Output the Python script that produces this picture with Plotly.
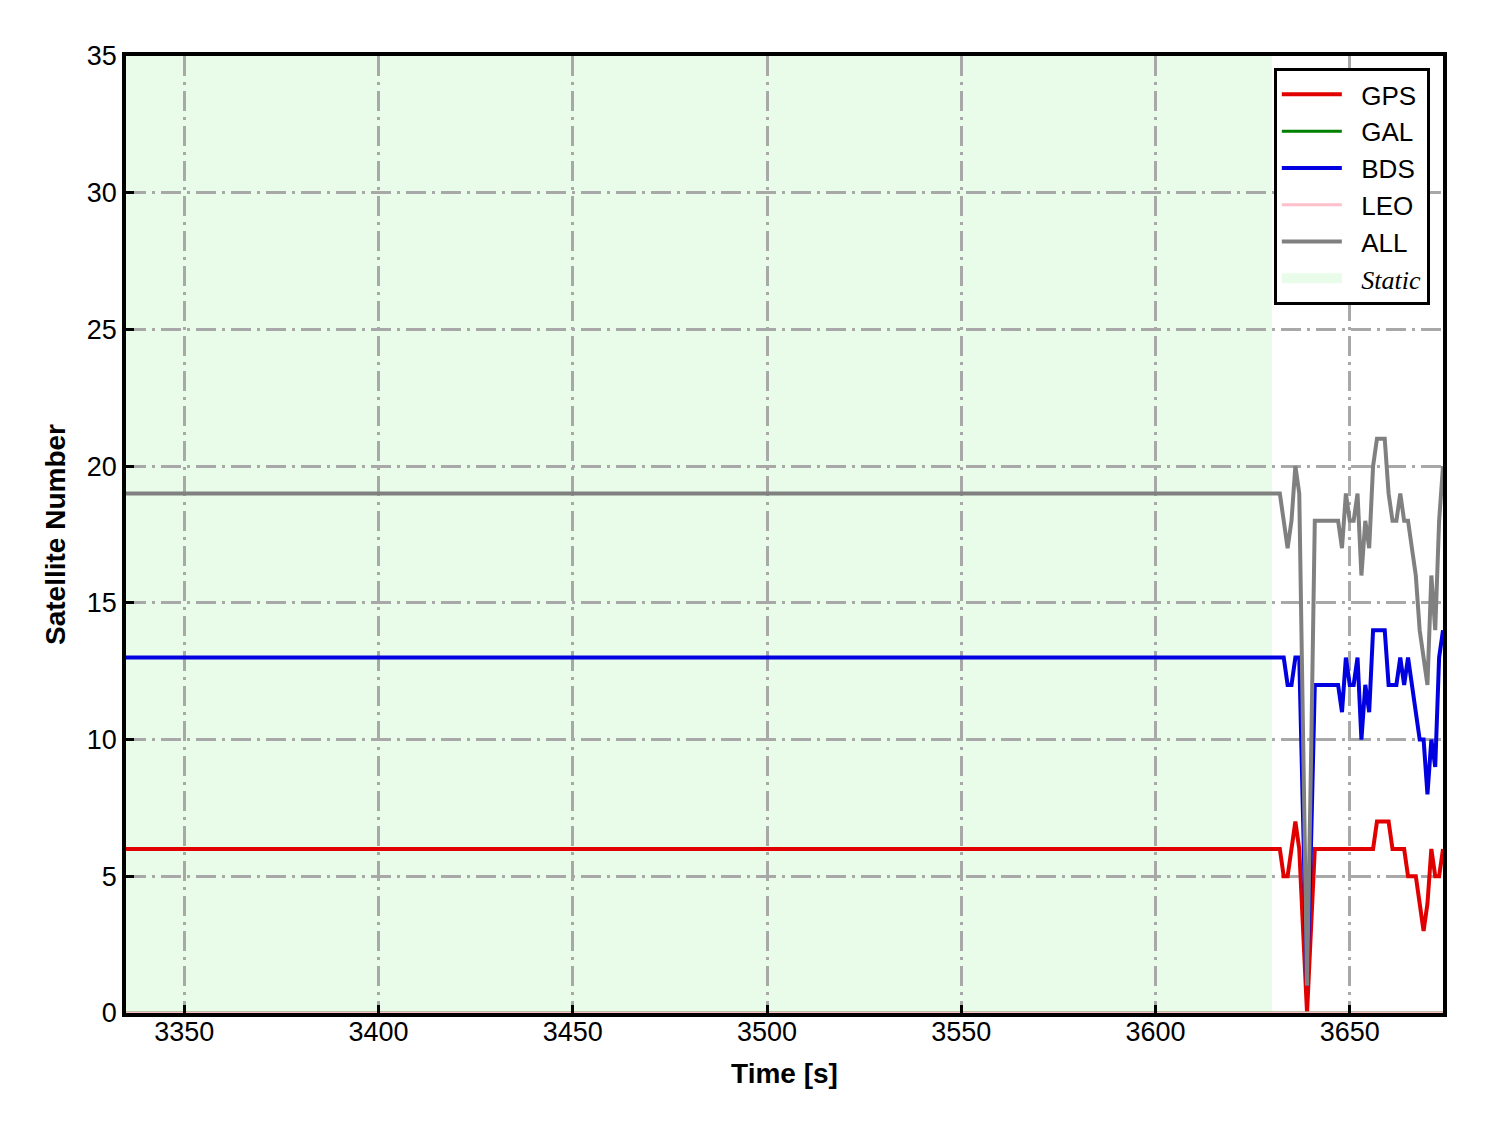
import plotly.graph_objects as go

# ---- data ----
time_s = [3335,
          3631, 3632, 3633, 3634, 3635, 3636, 3637, 3638, 3639, 3640,
          3641, 3642, 3643, 3644, 3645, 3646, 3647, 3648, 3649, 3650,
          3651, 3652, 3653, 3654, 3655, 3656, 3657, 3658, 3659, 3660,
          3661, 3662, 3663, 3664, 3665, 3666, 3667, 3668, 3669, 3670,
          3671, 3672, 3673, 3674]
gps = [6,
       6, 6, 5, 5, 6, 7, 6, 3, 0, 3,
       6, 6, 6, 6, 6, 6, 6, 6, 6, 6,
       6, 6, 6, 6, 6, 6, 7, 7, 7, 7,
       6, 6, 6, 6, 5, 5, 5, 4, 3, 4,
       6, 5, 5, 6]
gal = [0] * len(time_s)
bds = [13,
       13, 13, 13, 12, 12, 13, 13, 7, 1, 6,
       12, 12, 12, 12, 12, 12, 12, 11, 13, 12,
       12, 13, 10, 12, 11, 14, 14, 14, 14, 12,
       12, 12, 13, 12, 13, 12, 11, 10, 10, 8,
       10, 9, 13, 14]
leo = [0] * len(time_s)
all_sats = [19,
            19, 19, 18, 17, 18, 20, 19, 10, 1, 9,
            18, 18, 18, 18, 18, 18, 18, 17, 19, 18,
            18, 19, 16, 18, 17, 20, 21, 21, 21, 19,
            18, 18, 19, 18, 18, 17, 16, 14, 13, 12,
            16, 14, 18, 20]

static_start = 3335
static_end = 3630
x_range = [3335, 3674]
y_range = [0, 35]
x_ticks = [3350, 3400, 3450, 3500, 3550, 3600, 3650]
y_ticks = [0, 5, 10, 15, 20, 25, 30, 35]

series = [("GPS", gps, "#e00000", 4), ("GAL", gal, "green", 3),
          ("BDS", bds, "#0000e0", 4), ("LEO", leo, "pink", 3),
          ("ALL", all_sats, "gray", 4)]
static_color = "#e9fce9"

fig = go.Figure()

# static period shading, drawn beneath the grid
fig.add_shape(type="rect", xref="x", yref="y",
              x0=static_start, x1=static_end, y0=y_range[0], y1=y_range[1],
              fillcolor=static_color, line=dict(width=0), layer="below")

gap = "\u00a0\u00a0"
for i, (name, vals, color, lw) in enumerate(series):
    fig.add_trace(go.Scatter(x=time_s, y=vals, mode="lines", name=gap + name,
                             line=dict(color=color, width=lw),
                             legendrank=1000 + i))

# legend entry for static shading
fig.add_trace(go.Scatter(
    x=[None], y=[None], mode="lines",
    line=dict(width=20, color=static_color),
    name=gap + "<span style=\"font-family:'Liberation Serif'\"><i>Static</i></span>",
    legendrank=1100, hoverinfo="skip"))

axis_common = dict(
    showline=True, linecolor="black", linewidth=3.5, mirror=True,
    ticks="inside", ticklen=8, tickwidth=2.5, tickcolor="black",
    showgrid=True, gridcolor="#a8a8a8", gridwidth=2.5,
    griddash="20px,6px,3px,6px",
    zeroline=False,
    tickfont=dict(family="Liberation Sans", size=27, color="black"),
)

fig.update_xaxes(range=x_range, tickvals=x_ticks, ticklabelstandoff=-8,
                 title=dict(text="<b>Time [s]</b>", standoff=18,
                            font=dict(family="Liberation Sans", size=28, color="black")),
                 **axis_common)
fig.update_yaxes(range=y_range, tickvals=y_ticks,
                 title=dict(text="<b>Satellite Number</b>", standoff=14,
                            font=dict(family="Liberation Sans", size=28, color="black")),
                 **axis_common)

fig.update_layout(
    width=1472, height=1117,
    margin=dict(l=118, r=37, t=48, b=112),
    plot_bgcolor="white", paper_bgcolor="white",
    legend=dict(x=0.99, y=0.9875, xanchor="right", yanchor="top",
                bgcolor="white", bordercolor="black", borderwidth=3,
                font=dict(family="Liberation Sans", size=26, color="black"),
                itemwidth=60, traceorder="normal", tracegroupgap=0),
    showlegend=True,
)

fig.write_html("out.html")
